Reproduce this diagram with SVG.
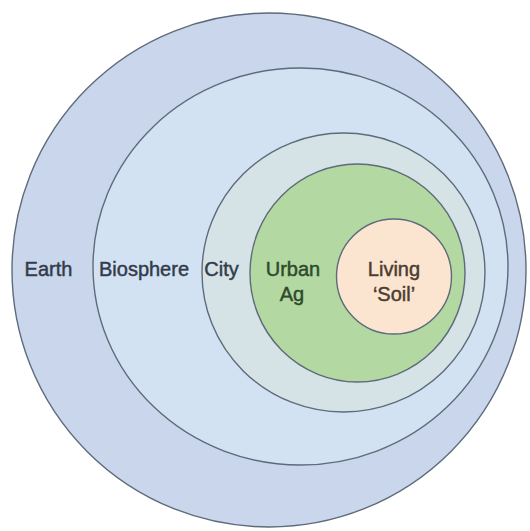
<svg xmlns="http://www.w3.org/2000/svg" width="530" height="531" viewBox="0 0 530 531">
  <style>
    .ring { stroke: #5d6b7a; stroke-width: 1.4; }
    .lbl { font-family: "Liberation Sans", Arial, sans-serif; font-size: 20px; text-anchor: middle; stroke-width: 0.45; }
    .blue { fill: #323b4a; stroke: #323b4a; }
    .green { fill: #2f4a2c; stroke: #2f4a2c; }
    .brown { fill: #4a3d30; stroke: #4a3d30; }
  </style>
  <rect width="530" height="531" fill="#ffffff"/>
  <g id="earth">
    <circle class="ring" cx="269" cy="270" r="257" fill="#c9d6ec"/>
    <text class="lbl blue" x="48.5" y="276">Earth</text>
  </g>
  <g id="biosphere">
    <ellipse class="ring" cx="300.5" cy="266.5" rx="207.5" ry="198.5" fill="#d3e2f3"/>
    <text class="lbl blue" x="144" y="276">Biosphere</text>
  </g>
  <g id="city">
    <ellipse class="ring" cx="343.5" cy="272.5" rx="141.5" ry="139.5" fill="#d5e2e6"/>
    <text class="lbl blue" x="221.5" y="276">City</text>
  </g>
  <g id="urban-ag">
    <ellipse class="ring" cx="357.5" cy="273" rx="107.5" ry="109" fill="#b3d8a1"/>
    <text class="lbl green" x="293" y="276">Urban</text>
    <text class="lbl green" x="292" y="301">Ag</text>
  </g>
  <g id="living-soil">
    <circle class="ring" cx="394" cy="276.5" r="57.5" fill="#fbe4d0"/>
    <text class="lbl brown" x="394" y="276">Living</text>
    <text class="lbl brown" x="394" y="301">‘Soil’</text>
  </g>
</svg>
